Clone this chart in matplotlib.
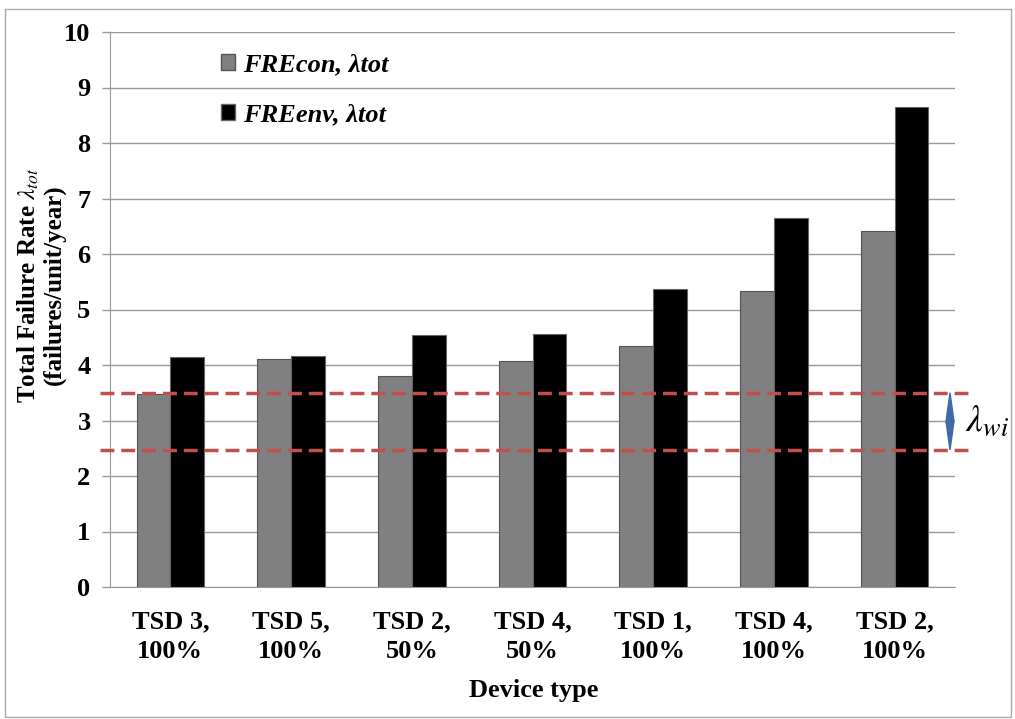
import matplotlib
matplotlib.use("Agg")
import matplotlib.pyplot as plt
from matplotlib.patches import Polygon, Rectangle, Patch
import numpy as np

plt.rcParams['font.family'] = ['Liberation Serif', 'DejaVu Serif']
plt.rcParams['mathtext.fontset'] = 'stix'

categories = ["TSD 3,\n100%", "TSD 5,\n100%", "TSD 2,\n50%", "TSD 4,\n50%",
              "TSD 1,\n100%", "TSD 4,\n100%", "TSD 2,\n100%"]
fre_con = [3.47, 4.11, 3.80, 4.07, 4.34, 5.33, 6.41]
fre_env = [4.14, 4.17, 4.54, 4.55, 5.37, 6.65, 8.65]
series_labels = ["FREcon, λtot", "FREenv, λtot"]
band_low, band_high = 2.47, 3.50
yticks = list(range(0, 11))

W, H = 1015, 719
fig = plt.figure(figsize=(W/100, H/100), dpi=100)
ax = fig.add_axes([110/W, 1-587/H, 845/W, 555/H])

x = np.arange(len(categories))
bw = 0.28
ax.bar(x - bw/2, fre_con, bw, color='#808080', edgecolor='#555555', linewidth=0.8, zorder=3)
ax.bar(x + bw/2, fre_env, bw, color='#000000', edgecolor='#666666', linewidth=0.8, zorder=3)

ax.set_xlim(-0.5, len(categories) - 0.5)
ax.set_ylim(0, 10)
ax.set_yticks(yticks)
ax.set_yticklabels([str(t) for t in yticks], fontsize=19, fontweight='bold')
ax.set_xticks(x)
ax.set_xticklabels(categories, fontsize=19, fontweight='bold', linespacing=1.35)
ax.tick_params(axis='x', length=0, pad=17)
ax.tick_params(axis='y', length=6, color='#999999', width=1, pad=8, direction='out')
ax.grid(axis='y', color='#999999', linewidth=1, zorder=0)
for s in ['top', 'right']:
    ax.spines[s].set_visible(False)
ax.spines['left'].set_color('#999999')
ax.spines['bottom'].set_color('#999999')

# dashed band lines
xa0, xa1 = (100-110)/845, (968-110)/845
for yv in (band_low, band_high):
    ax.plot([xa0, xa1], [yv, yv], transform=ax.get_yaxis_transform(),
            color='#C0504D', linewidth=2.5, linestyle=(0, (4, 2)), clip_on=False, zorder=4)

# lambda_wi marker
xc = (950-110)/845
wd = 4/845
ymid = (band_low + band_high)/2
poly = Polygon([[xc, band_high], [xc+wd, ymid], [xc, band_low], [xc-wd, ymid]],
               closed=True, transform=ax.get_yaxis_transform(), color='#3E6AA8',
               clip_on=False, zorder=5)
ax.add_patch(poly)
ax.text((965-110)/845, ymid, r"$\lambda_{wi}$", transform=ax.get_yaxis_transform(),
        fontsize=27, va='center', ha='left')

# legend
handles = [Patch(facecolor='#808080', edgecolor='#555555'), Patch(facecolor='#000000', edgecolor='#666666')]
fig.legend(handles, series_labels, loc='upper left',
           bbox_to_anchor=(197/W, 1-30/H), frameon=False,
           prop={'family': 'Liberation Serif', 'weight': 'bold', 'style': 'italic', 'size': 19},
           handlelength=0.55, handleheight=0.55, handletextpad=0.3, labelspacing=1.0)

fig.text(534/W, 1-690/H, "Device type", ha='center', va='center', fontsize=19, fontweight='bold')
fig.text(41/W, 1-285/H, r"Total Failure Rate $\boldsymbol{\lambda_{tot}}$" + "\n(failures/unit/year)",
         rotation=90, ha='center', va='center', fontsize=18, fontweight='bold', linespacing=1.05)

# outer frame
fig.patches.append(Rectangle((5/W, 1-717/H), 1006/W, 708/H, transform=fig.transFigure,
                             fill=False, edgecolor='#AAAAAA', linewidth=1))

fig.savefig("out.png", dpi=100)
